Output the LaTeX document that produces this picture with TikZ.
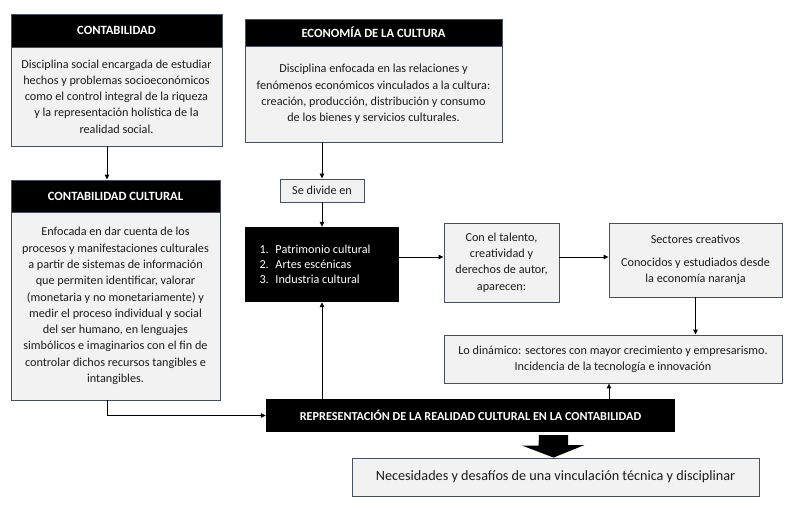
\documentclass[tikz,border=0pt]{standalone}
\usepackage{fontspec}
\setmainfont{Carlito}
\usepackage{xcolor}
\usetikzlibrary{arrows.meta, calc}
\definecolor{BoxFill}  {HTML}{F2F2F3}
\definecolor{BoxLine}  {HTML}{46505E}
\definecolor{TextDark} {HTML}{1C1C1C}
\tikzset{
  head/.style={
    draw=BoxLine, fill=black, text=white, line width=0.9pt,
    font=\fontsize{12.6}{15}\selectfont\bfseries, align=center, inner sep=0pt,
  },
  body/.style={
    draw=BoxLine, fill=BoxFill, text=TextDark, line width=0.9pt,
    font=\fontsize{12.2}{16.3}\selectfont, align=center, inner sep=0pt,
  },
  darkbox/.style={
    fill=black, text=white, inner sep=0pt,
    font=\fontsize{12.2}{15}\selectfont,
  },
  link/.style={
    -{Triangle[length=5pt,width=4.5pt]}, color=black, line width=1pt,
  },
  plain/.style={color=black, line width=1pt},
}

\begin{document}
\begin{tikzpicture}[x=1pt, y=-1pt]
\useasboundingbox (0,0) rectangle (799,509);

% ── Nodes ─────────────────────────────────────────────────────────────────
\node[head, minimum width=211pt, minimum height=33pt] (CONTH) at (116.5, 30.5) {CONTABILIDAD};
\node[body, minimum width=211pt, minimum height=99pt] (CONTB) at (116.5, 96.5)
  {Disciplina social encargada de estudiar\\hechos y problemas socioeconómicos\\como el control integral de la riqueza\\y la representación holística de la\\realidad social.};

\node[head, minimum width=257pt, minimum height=27pt] (ECONH) at (373.5, 32.5) {ECONOMÍA DE LA CULTURA};
\node[body, minimum width=257pt, minimum height=96pt] (ECONB) at (373.5, 94)
  {Disciplina enfocada en las relaciones y\\fenómenos económicos vinculados a la cultura:\\creación, producción, distribución y consumo\\de los bienes y servicios culturales.};

\node[body, minimum width=84pt, minimum height=23pt] (DIV) at (322, 190.5) {Se divide en};

\node[head, minimum width=209pt, minimum height=32pt] (CCULTH) at (115.5, 196) {CONTABILIDAD CULTURAL};
\node[body, minimum width=209pt, minimum height=188pt] (CCULTB) at (115.5, 306)
  {Enfocada en dar cuenta de los\\procesos y manifestaciones culturales\\a partir de sistemas de información\\que permiten identificar, valorar\\(monetaria y no monetariamente) y\\medir el proceso individual y social\\del ser humano, en lenguajes\\simbólicos e imaginarios con el fin de\\controlar dichos recursos tangibles e\\intangibles.};

% numbered list on black
\node[darkbox, minimum width=154pt, minimum height=75pt, align=left] (LIST) at (322, 264.5)
  {\hspace*{10pt}\makebox[16pt][l]{1.}Patrimonio cultural\hspace*{24pt}\\
   \hspace*{10pt}\makebox[16pt][l]{2.}Artes escénicas\\
   \hspace*{10pt}\makebox[16pt][l]{3.}Industria cultural};

\node[body, minimum width=115pt, minimum height=79pt] (TALENT) at (501.5, 262.5)
  {Con el talento,\\creatividad y\\derechos de autor,\\aparecen:};
\node[body, minimum width=173pt, minimum height=74pt] (SECT) at (695.5, 260)
  {Sectores creativos\\[6pt]Conocidos y estudiados desde\\la economía naranja};
\node[body, minimum width=338pt, minimum height=48pt] (DIN) at (613, 359)
  {Lo dinámico: sectores con mayor crecimiento y empresarismo.\\Incidencia de la tecnología e innovación};

\node[darkbox, font=\fontsize{12.2}{14}\selectfont\bfseries, minimum width=409pt, minimum height=33pt] (REPR) at (470.5, 415.5)
  {REPRESENTACIÓN DE LA REALIDAD CULTURAL EN LA CONTABILIDAD};
\node[body, font=\fontsize{14.2}{17}\selectfont, minimum width=407pt, minimum height=38pt] (FINAL) at (555.5, 477)
  {Necesidades y desafíos de una vinculación técnica y disciplinar};

% ── Connectors ────────────────────────────────────────────────────────────
\coordinate (ROW) at (0, 257);
\coordinate (UPX) at (609, 0);
\coordinate (LEFTX) at (107, 0);

\draw[link] (CONTB.south -| LEFTX) -- (CCULTH.north -| LEFTX);
\draw[link] (ECONB.south -| DIV.north) -- (DIV.north);
\draw[link] (DIV.south) -- (LIST.north);
\draw[link] (LIST.east |- ROW) -- (TALENT.west |- ROW);
\draw[link] (TALENT.east |- ROW) -- (SECT.west |- ROW);
\draw[link] (SECT.south) -- (SECT.south |- DIN.north);
\draw[link] (REPR.north -| LIST.south) -- (LIST.south);
\draw[link] (REPR.north -| UPX) -- (DIN.south -| UPX);
\draw[link] (CCULTB.south -| LEFTX) |- (REPR.west);

% big block arrow into the last box
\coordinate (BIG) at (553.5, 435);
\fill[black] (BIG) ++(-14.5,0) -- ++(29,0) -- ++(0,10) -- ++(16.5,0)
  -- (BIG |- FINAL.north) -- ++(-31.5,-12) -- ++(16.5,0) -- cycle;

\end{tikzpicture}
\end{document}
